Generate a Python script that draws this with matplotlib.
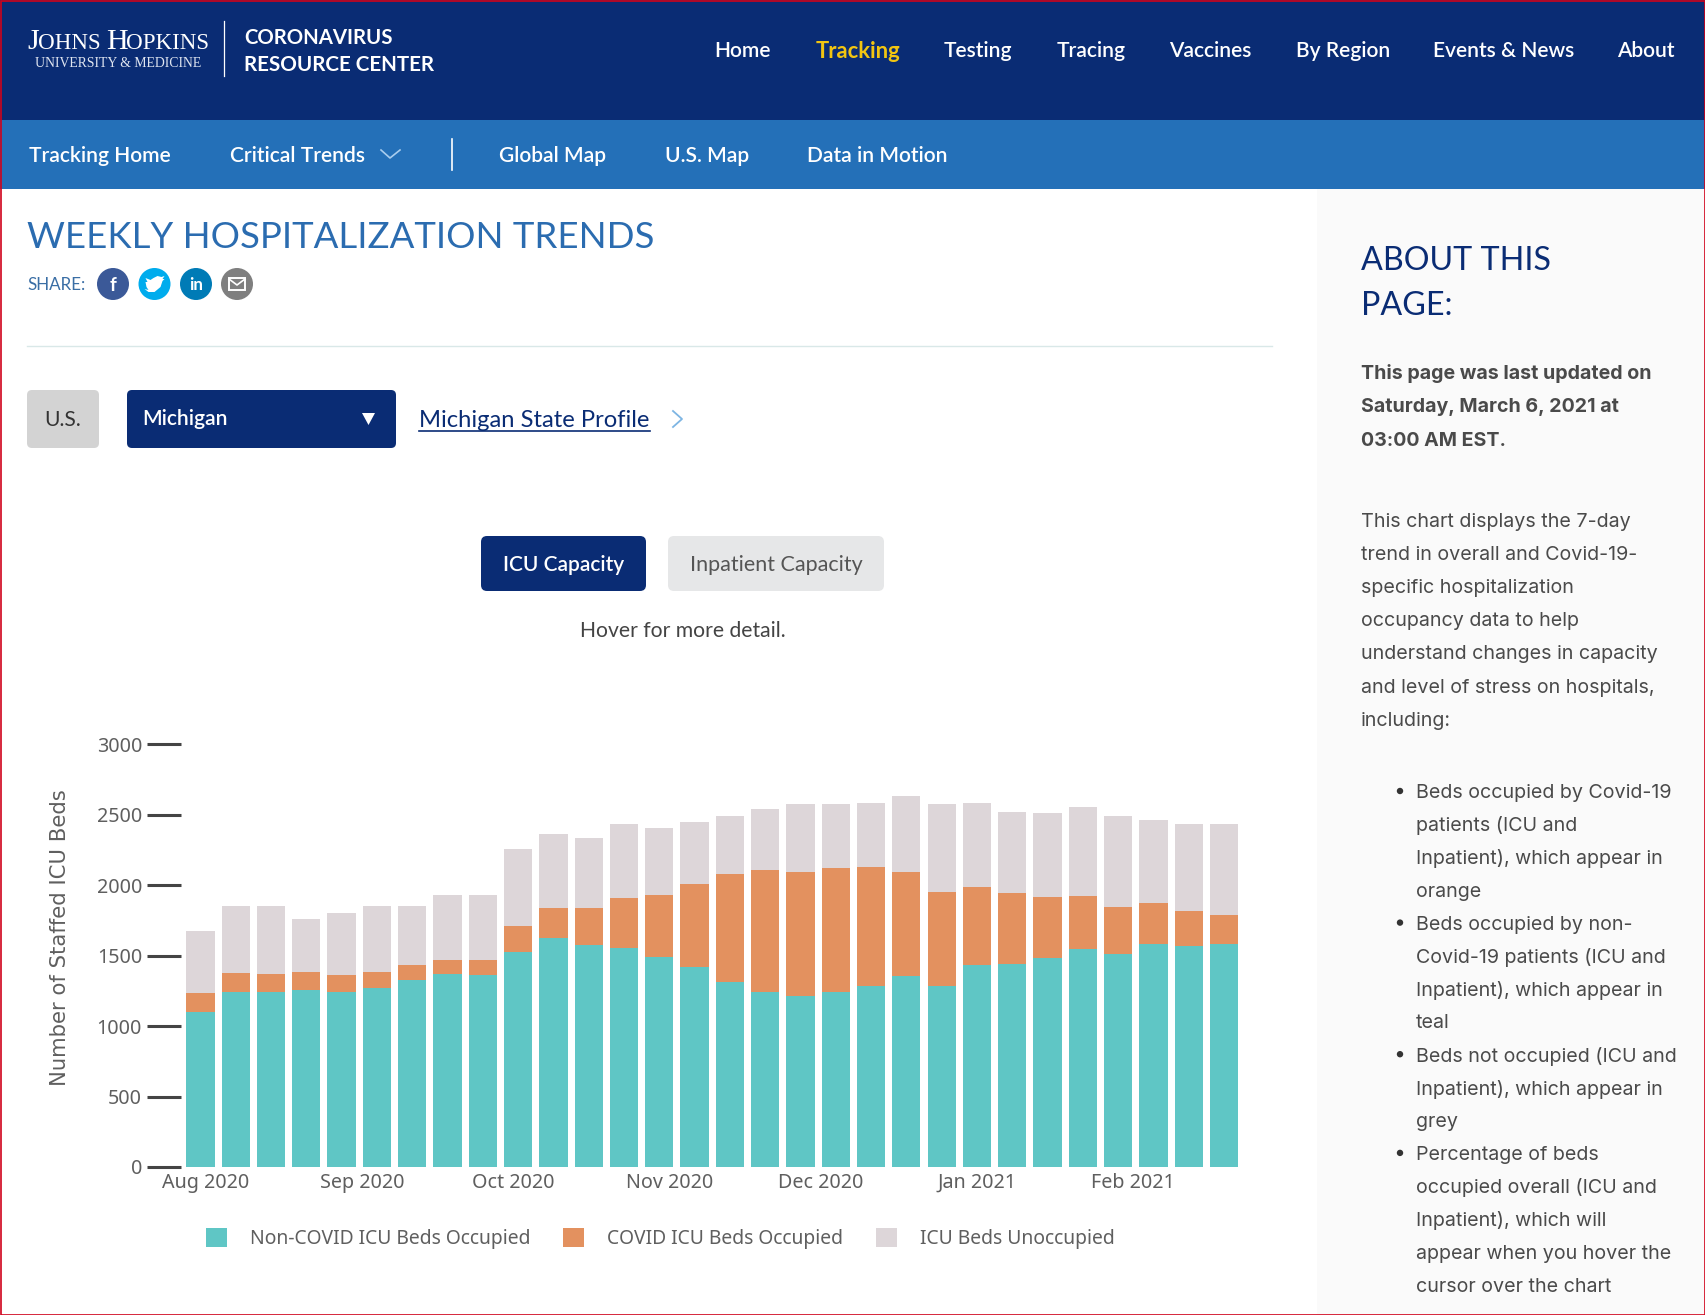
"""Weekly hospitalization trends page (ICU capacity, Michigan)."""

import matplotlib
matplotlib.use("Agg")
import matplotlib.dates as mdates
import matplotlib.pyplot as plt
import pandas as pd
from matplotlib.patches import Circle, FancyBboxPatch, Polygon, Rectangle

WIDTH, HEIGHT = 1705, 1315

week_dates = pd.date_range("2020-07-31", periods=30, freq="7D")
non_covid_beds = [1100, 1241, 1241, 1254, 1244, 1267, 1325, 1371, 1363, 1525,
                  1624, 1576, 1556, 1487, 1416, 1312, 1241, 1214, 1244, 1282,
                  1355, 1287, 1431, 1442, 1480, 1545, 1513, 1583, 1568, 1583]
covid_beds = [136, 137, 130, 127, 119, 116, 106, 96, 109, 185,
              213, 263, 352, 441, 593, 768, 864, 881, 879, 846,
              738, 664, 555, 501, 433, 378, 329, 289, 249, 203]
unoccupied_beds = [439, 474, 478, 380, 438, 466, 421, 466, 459, 547,
                   524, 499, 527, 481, 436, 413, 436, 479, 451, 454,
                   539, 628, 596, 575, 598, 631, 651, 591, 618, 646]
y_ticks = [0, 500, 1000, 1500, 2000, 2500, 3000]

NAVY = "#0a2c74"
BLUE = "#2470b8"
TEXT = "#4a4a4a"
AXIS_TEXT = "#5f5f5f"
TEAL = "#5fc6c5"
ORANGE = "#e3915f"
GREY = "#ddd6d9"
UI_FONT = ["Lato", "DejaVu Sans"]
CHART_FONT = ["Noto Sans", "DejaVu Sans"]
SIDE_FONT = ["Inter", "DejaVu Sans"]

top_nav = [("Home", 743), ("Tracking", 858), ("Testing", 978), ("Tracing", 1091),
           ("Vaccines", 1210), ("By Region", 1343), ("Events & News", 1504), ("About", 1646)]
sub_nav = [("Tracking Home", 100), ("Critical Trends", 298), ("Global Map", 553),
           ("U.S. Map", 707), ("Data in Motion", 877)]
updated_lines = ["This page was last updated on", "Saturday, March 6, 2021 at", "03:00 AM EST."]
intro_lines = ["This chart displays the 7-day", "trend in overall and Covid-19-",
               "specific hospitalization", "occupancy data to help",
               "understand changes in capacity", "and level of stress on hospitals,",
               "including:"]
bullets = [
    ["Beds occupied by Covid-19", "patients (ICU and", "Inpatient), which appear in", "orange"],
    ["Beds occupied by non-", "Covid-19 patients (ICU and", "Inpatient), which appear in", "teal"],
    ["Beds not occupied (ICU and", "Inpatient), which appear in", "grey"],
    ["Percentage of beds", "occupied overall (ICU and", "Inpatient), which will",
     "appear when you hover the", "cursor over the chart"],
]


def page_text(ax, x, y, text, px, color=TEXT, family=None, ha="left", weight="normal", **kwargs):
    """Text with position and size in page pixels."""
    return ax.text(x, y + 2, text, fontsize=px * 0.72, color=color, family=family or UI_FONT,
                   ha=ha, va="center", fontweight=weight, **kwargs)


def button(ax, x0, y0, x1, y1, color, radius=5):
    ax.add_patch(FancyBboxPatch((x0 + radius, y0 + radius), x1 - x0 - 2 * radius, y1 - y0 - 2 * radius,
                                boxstyle=f"round,pad={radius}", facecolor=color, edgecolor="none"))


def draw_header(ax):
    ax.add_patch(Rectangle((0, 0), WIDTH, 120, facecolor=NAVY, edgecolor="none"))
    ax.add_patch(Rectangle((0, 120), WIDTH, 69, facecolor=BLUE, edgecolor="none"))

    serif = ["Liberation Serif"]
    for x, part, px in [(27, "J", 30), (38, "OHNS", 23), (106, "H", 30), (126, "OPKINS", 23)]:
        ax.text(x, 49, part, fontsize=px * 0.72, color="white", family=serif, ha="left", va="baseline")
    page_text(ax, 35, 61, "UNIVERSITY & MEDICINE", 13.8, color="#dfe5f0", family=serif)
    ax.plot([224, 224], [21, 76], color="white", lw=0.9)
    page_text(ax, 244, 36, "CORONAVIRUS", 20.4, color="white", weight="bold")
    page_text(ax, 244, 63, "RESOURCE CENTER", 20.6, color="white", weight="bold")

    for label, x in top_nav:
        if label == "Tracking":
            page_text(ax, x, 49, label, 22, color="#f2c511", ha="center", weight="bold")
        else:
            page_text(ax, x, 49, label, 21, color="white", ha="center", weight="semibold")
    for label, x in sub_nav:
        page_text(ax, x, 154, label, 21, color="white", ha="center", weight="semibold")
    ax.plot([381, 390, 400], [150, 158, 150], color="#a9cdee", lw=1.2)
    ax.plot([452, 452], [139, 170], color="white", lw=1.2)


def draw_controls(ax):
    page_text(ax, 27, 235.5, "WEEKLY HOSPITALIZATION TRENDS", 36.6, color="#2b6cb0", family=["Lato"])
    page_text(ax, 27, 283, "SHARE:", 17, color="#3a6ea5")
    for x, color in [(113, "#3b5998"), (154.5, "#00aced"), (196, "#007bb6"), (237, "#7f7f7f")]:
        ax.add_patch(Circle((x, 284), 16, facecolor=color, edgecolor="none"))
    page_text(ax, 113, 283, "f", 19, color="white", ha="center", weight="bold")
    page_text(ax, 196, 283, "in", 17, color="white", ha="center", weight="bold")
    bird = [(-10, 5), (-6, 6), (-8, 3), (-9, -2), (-7, -2), (-9, -6), (-4, -4), (-1, -6), (3, -8),
            (7, -7), (10, -8), (8, -5), (10, -5), (8, -3), (6, 3), (0, 8), (-6, 8)]
    ax.add_patch(Polygon([(154.5 + dx, 284 + dy) for dx, dy in bird], facecolor="white", edgecolor="none"))
    ax.add_patch(Rectangle((229, 278), 16, 12, facecolor="none", edgecolor="white", lw=1.4))
    ax.plot([229, 237, 245], [279, 285, 279], color="white", lw=1.2)
    ax.plot([27, 1272], [346, 346], color="#d9e8e8", lw=1)

    button(ax, 27, 390, 99, 448, "#d3d3d3")
    page_text(ax, 63, 418, "U.S.", 21, color="#333333", ha="center")
    button(ax, 127, 390, 396, 448, NAVY)
    page_text(ax, 142, 417, "Michigan", 21, color="white", weight="semibold")
    ax.add_patch(Polygon([(362, 413), (375, 413), (368.5, 425)], facecolor="white", edgecolor="none"))
    page_text(ax, 419, 418, "Michigan State Profile", 23.8, color=NAVY)
    ax.plot([419, 650], [431, 431], color=NAVY, lw=1.2)
    ax.plot([673, 682, 673], [411, 419, 427], color="#7db5e3", lw=1.3)

    button(ax, 481, 536, 646, 591, NAVY, radius=6)
    page_text(ax, 563.5, 563, "ICU Capacity", 20.9, color="white", ha="center", weight="semibold")
    button(ax, 668, 536, 884, 591, "#e6e7e8", radius=6)
    page_text(ax, 776, 563, "Inpatient Capacity", 21.5, color="#555555", ha="center")
    page_text(ax, 683, 629, "Hover for more detail.", 21.2, color="#444444", ha="center")


def draw_sidebar(ax):
    ax.add_patch(Rectangle((1317, 189), WIDTH - 1317, HEIGHT - 189, facecolor="#fafafa", edgecolor="none"))
    page_text(ax, 1361, 259, "ABOUT THIS", 32.3, color=NAVY, family=["Lato"])
    page_text(ax, 1361, 304, "PAGE:", 32.3, color=NAVY, family=["Lato"])
    for i, line in enumerate(updated_lines):
        page_text(ax, 1361, 371 + i * 34, line, 19.6, family=SIDE_FONT, weight="bold")
    for i, line in enumerate(intro_lines):
        page_text(ax, 1361, 520 + i * 33.1, line, 19.7, family=SIDE_FONT)
    y = 791
    for block in bullets:
        ax.add_patch(Circle((1400, y), 3.2, facecolor="#333333", edgecolor="none"))
        for line in block:
            page_text(ax, 1416, y, line, 19.7, family=SIDE_FONT)
            y += 32.9


def draw_chart(fig):
    left, right, top, bottom = 181, 1245, 744.3, 1167
    ax = fig.add_axes([left / WIDTH, 1 - bottom / HEIGHT, (right - left) / WIDTH, (bottom - top) / HEIGHT])
    ax.patch.set_alpha(0)

    bottom_covid = non_covid_beds
    bottom_unoccupied = [a + b for a, b in zip(non_covid_beds, covid_beds)]
    ax.bar(week_dates, non_covid_beds, width=5.6, color=TEAL, label="Non-COVID ICU Beds Occupied")
    ax.bar(week_dates, covid_beds, width=5.6, bottom=bottom_covid, color=ORANGE, label="COVID ICU Beds Occupied")
    ax.bar(week_dates, unoccupied_beds, width=5.6, bottom=bottom_unoccupied, color=GREY, label="ICU Beds Unoccupied")

    ax.set_xlim(week_dates[0] - pd.Timedelta(days=3.85), week_dates[-1] + pd.Timedelta(days=4.16))
    ax.set_ylim(0, 3000)
    for spine in ax.spines.values():
        spine.set_visible(False)

    ax.set_yticks(y_ticks)
    ax.tick_params(axis="y", length=24.5, width=2.2, color="#444444", pad=3.6, labelsize=14.2, labelcolor=AXIS_TEXT)
    ax.xaxis.set_major_locator(mdates.MonthLocator())
    ax.xaxis.set_major_formatter(mdates.DateFormatter("%b %Y"))
    ax.tick_params(axis="x", length=0, pad=15, labelsize=14.2, labelcolor=AXIS_TEXT)
    plt.setp(ax.get_xticklabels(), va="baseline")
    ax.set_ylabel("Number of Staffed ICU Beds", fontsize=15.2, color=AXIS_TEXT, family=["DejaVu Sans"])
    ax.yaxis.set_label_coords((70.5 - left) / (right - left), 0.543)

    ax.legend(loc="upper left", bbox_to_anchor=(206 / WIDTH, 1 - 1228 / HEIGHT), bbox_transform=fig.transFigure,
              ncol=3, frameon=False, fontsize=13.9, borderpad=0, borderaxespad=0,
              handlelength=1.09, handleheight=1.15, handletextpad=1.19, columnspacing=1.7,
              labelcolor=AXIS_TEXT)


def main():
    plt.rcParams["font.family"] = CHART_FONT
    fig = plt.figure(figsize=(WIDTH / 100, HEIGHT / 100), dpi=100, facecolor="white")
    page = fig.add_axes([0, 0, 1, 1])
    page.set_xlim(0, WIDTH)
    page.set_ylim(HEIGHT, 0)
    page.axis("off")

    draw_header(page)
    draw_controls(page)
    draw_sidebar(page)
    draw_chart(fig)

    page.add_patch(Rectangle((0.5, 0.5), WIDTH - 1, HEIGHT - 1, facecolor="none", edgecolor="#d0021b", lw=1.2))
    fig.savefig("out.png", dpi=100)
    plt.close(fig)


if __name__ == "__main__":
    main()
